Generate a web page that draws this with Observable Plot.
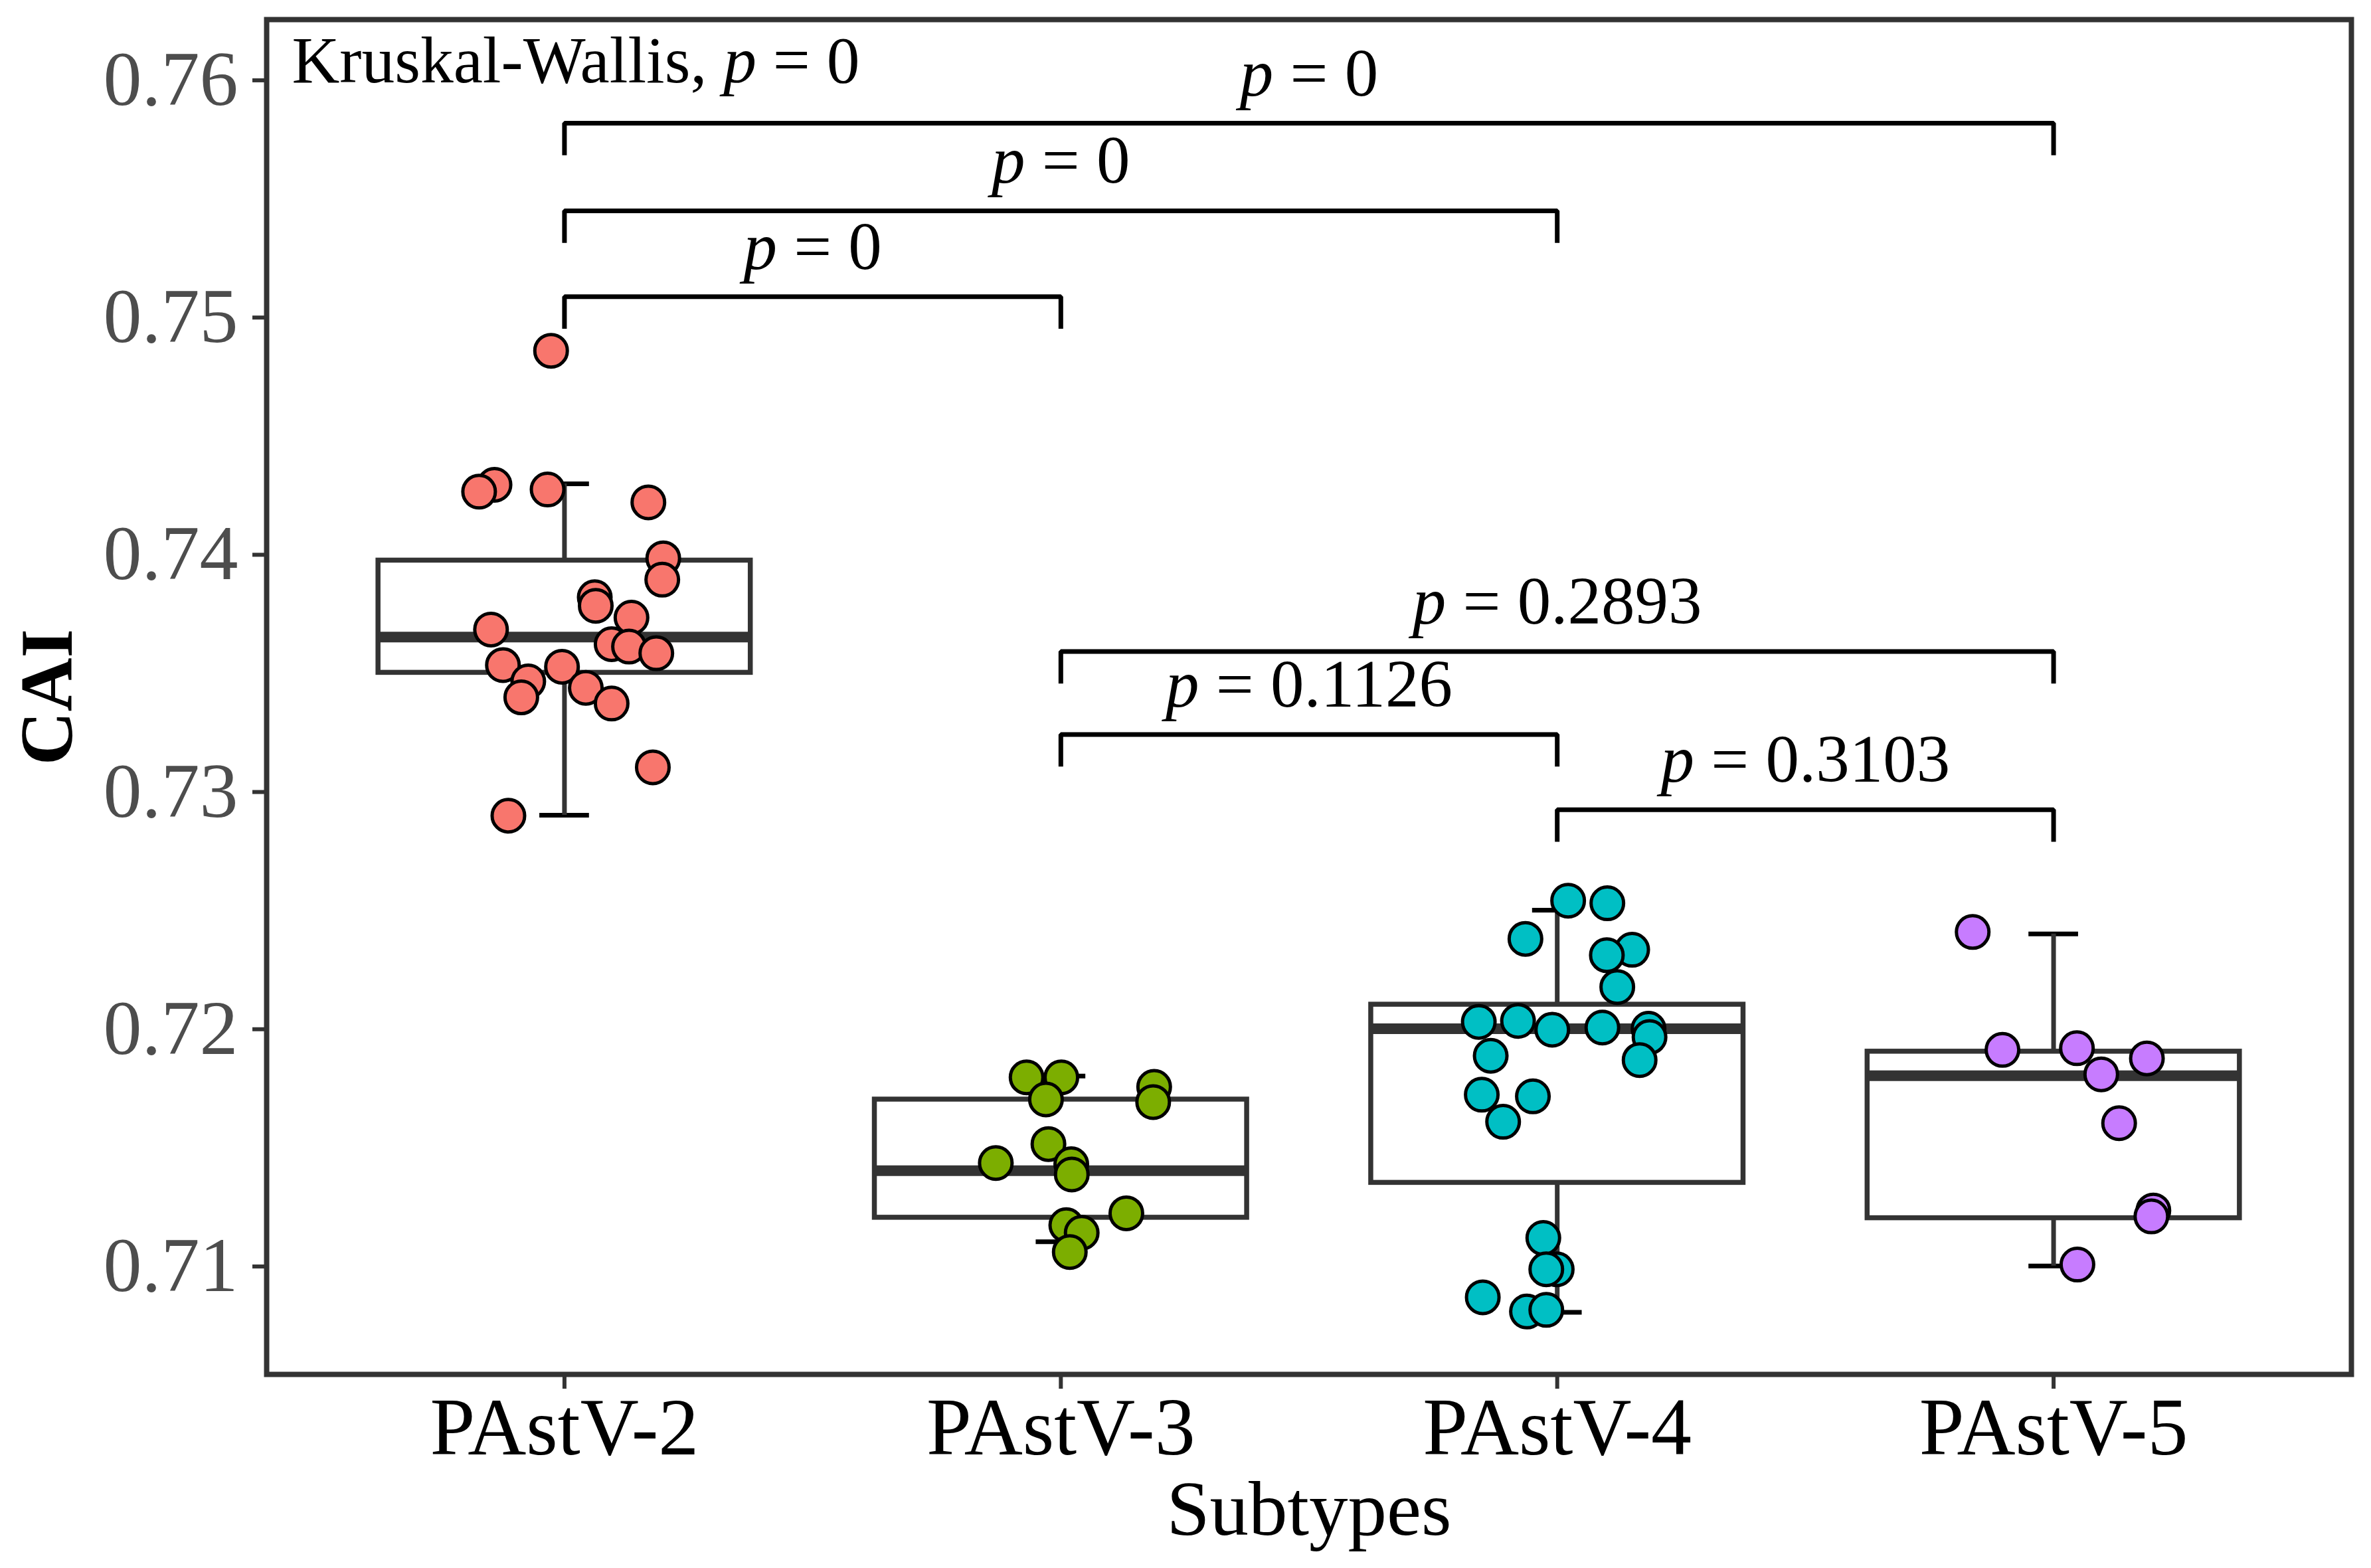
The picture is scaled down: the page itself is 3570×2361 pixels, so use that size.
<!DOCTYPE html>
<html><head><meta charset="utf-8">
<script src="https://cdn.jsdelivr.net/npm/d3@7"></script>
<script src="https://cdn.jsdelivr.net/npm/@observablehq/plot@0.6"></script>
<style>html,body{margin:0;padding:0;background:#fff;} svg{display:block}</style>
</head><body><div id="chart"></div>
<script>
// ---- data ----
const categories = ["PAstV-2", "PAstV-3", "PAstV-4", "PAstV-5"];
const groupColors = ["#F8766D", "#7CAE00", "#00BFC4", "#C77CFF"];

const caiPAstV2 = [0.7486, 0.74295, 0.74266, 0.74275, 0.74221, 0.73985, 0.73895, 0.73821, 0.73785, 0.73735, 0.73685,
  0.73623, 0.73613, 0.73585, 0.73535, 0.73528, 0.73466, 0.73399, 0.73439, 0.73373, 0.73104, 0.72900];
const jitterPAstV2 = [-0.027, -0.141, -0.172, -0.034, 0.169, 0.199, 0.197, 0.061, 0.063, 0.135, -0.148,
  0.095, 0.130, 0.185, -0.124, -0.005, -0.073, -0.087, 0.043, 0.095, 0.178, -0.113];

const caiPAstV3 = [0.71797, 0.71797, 0.71704, 0.71757, 0.71693, 0.71516, 0.71436, 0.71431, 0.71388, 0.71224, 0.71174, 0.71142, 0.71061];
const jitterPAstV3 = [-0.069, 0.001, -0.030, 0.188, 0.186, -0.025, -0.131, 0.021, 0.022, 0.132, 0.011, 0.042, 0.018];

const caiPAstV4 = [0.72542, 0.72531, 0.72381, 0.72335, 0.72312, 0.72178, 0.72031, 0.72035, 0.71998, 0.72007, 0.72002, 0.71967,
  0.71870, 0.71888, 0.71724, 0.71717, 0.71610, 0.71120, 0.70988, 0.70988, 0.70870, 0.70810, 0.70817];
const jitterPAstV4 = [0.022, 0.101, -0.064, 0.151, 0.100, 0.121, -0.158, -0.079, -0.010, 0.091, 0.184, 0.186,
  0.166, -0.134, -0.152, -0.049, -0.109, -0.028, -0.001, -0.022, -0.150, -0.061, -0.022];

const caiPAstV5 = [0.72410, 0.71913, 0.71920, 0.71877, 0.71810, 0.71604, 0.71236, 0.71211, 0.71008];
const jitterPAstV5 = [-0.163, -0.103, 0.047, 0.188, 0.096, 0.132, 0.201, 0.197, 0.048];

const boxQ1 = [0.73503, 0.71206, 0.71353, 0.71204];
const boxMedian = [0.73653, 0.71404, 0.72002, 0.71804];
const boxQ3 = [0.73976, 0.71704, 0.72104, 0.71906];
const whiskerLow = [0.72902, 0.71104, 0.70807, 0.71002];
const whiskerHigh = [0.74299, 0.71803, 0.72502, 0.72402];

const pairFrom = [1, 1, 1, 2, 2, 3];
const pairTo = [4, 3, 2, 4, 3, 4];
const pairLevel = [0.75819, 0.75450, 0.75088, 0.73592, 0.73242, 0.72925];
const pairLabel = ["p = 0", "p = 0", "p = 0", "p = 0.2893", "p = 0.1126", "p = 0.3103"];
const kwLabel = "Kruskal-Wallis, p = 0";

const yTicks = [0.71, 0.72, 0.73, 0.74, 0.75, 0.76];
const yDomain = [0.70545, 0.76256];
const xTitle = "Subtypes";
const yTitle = "CAI";

// ---- derived tables ----
const groupValues = [caiPAstV2, caiPAstV3, caiPAstV4, caiPAstV5];
const groupJitter = [jitterPAstV2, jitterPAstV3, jitterPAstV4, jitterPAstV5];
const points = groupValues.flatMap((vals, g) => vals.map((v, k) => ({g, x: g + 1 + groupJitter[g][k], y: v})));
const stats = categories.map((c, i) => ({
  x: i + 1, q1: boxQ1[i], med: boxMedian[i], q3: boxQ3[i], lo: whiskerLow[i], hi: whiskerHigh[i]
}));
const HALF_BOX = 0.375, HALF_CAP = 0.05, TIP = 0.00135;
const brackets = pairFrom.map((f, k) => ({k, from: f, to: pairTo[k], level: pairLevel[k], label: pairLabel[k]}));
const bracketPath = brackets.flatMap(b => [
  {k: b.k, x: b.from, y: b.level - TIP},
  {k: b.k, x: b.from, y: b.level},
  {k: b.k, x: b.to, y: b.level},
  {k: b.k, x: b.to, y: b.level - TIP}
]);

const chart = Plot.plot({
  width: 3570,
  height: 2361,
  marginLeft: 401,
  marginRight: 30,
  marginTop: 29,
  marginBottom: 292,
  style: {fontFamily: "'Liberation Serif', 'Times New Roman', serif", background: "#fff", color: "#000"},
  x: {domain: [0.4, 4.6]},
  y: {domain: yDomain},
  marks: [
    Plot.ruleY(stats, {y: "lo", x1: d => d.x - HALF_CAP, x2: d => d.x + HALF_CAP, stroke: "#000", strokeWidth: 7}),
    Plot.ruleY(stats, {y: "hi", x1: d => d.x - HALF_CAP, x2: d => d.x + HALF_CAP, stroke: "#000", strokeWidth: 7}),
    Plot.ruleX(stats, {x: "x", y1: "q3", y2: "hi", stroke: "#333", strokeWidth: 7}),
    Plot.ruleX(stats, {x: "x", y1: "lo", y2: "q1", stroke: "#333", strokeWidth: 7}),
    Plot.rect(stats, {x1: d => d.x - HALF_BOX, x2: d => d.x + HALF_BOX, y1: "q1", y2: "q3", fill: "#fff", stroke: "#333", strokeWidth: 7.5}),
    Plot.ruleY(stats, {y: "med", x1: d => d.x - HALF_BOX, x2: d => d.x + HALF_BOX, stroke: "#333", strokeWidth: 16}),
    Plot.dot(points, {x: "x", y: "y", r: 24.5, fill: d => groupColors[d.g], stroke: "#000", strokeWidth: 5}),
    Plot.line(bracketPath, {x: "x", y: "y", z: "k", stroke: "#000", strokeWidth: 7, strokeLinejoin: "miter", strokeLinecap: "butt"}),
    Plot.text(brackets, {x: d => (d.from + d.to) / 2, y: "level", text: "label", dy: -42, lineAnchor: "bottom", fontSize: 101, fill: "#000"}),
    Plot.text([kwLabel], {frameAnchor: "top-left", text: d => d, dx: 38, dy: 94, lineAnchor: "bottom", textAnchor: "start", fontSize: 99.5, fill: "#000"}),
    Plot.axisY({ticks: yTicks, tickFormat: d3.format(".2f"), tickSize: 21, tickPadding: 22, fontSize: 116, fill: "#4D4D4D", stroke: "#333", strokeWidth: 6, label: null}),
    Plot.axisX({ticks: [1, 2, 3, 4], tickFormat: d => categories[d - 1], tickSize: 22, tickPadding: 12, fontSize: 122, fill: "#000", stroke: "#333", strokeWidth: 6, label: null}),
    Plot.text([yTitle], {frameAnchor: "left", text: d => d, dx: -329, rotate: -90, fontSize: 112, fontWeight: "bold", lineAnchor: "middle", textAnchor: "middle", fill: "#000"}),
    Plot.text([xTitle], {frameAnchor: "bottom", text: d => d, dy: 241, lineAnchor: "bottom", fontSize: 117, fill: "#000"}),
    Plot.frame({stroke: "#333", strokeWidth: 8})
  ]
});

// italic "p" in the p-value labels
d3.select(chart).selectAll("text").filter(function () {
  return /(^|, )p = /.test(this.textContent);
}).each(function () {
  const t = this.textContent;
  const m = t.match(/^(.*?)p( = .*)$/);
  if (!m) return;
  this.textContent = "";
  const s = d3.select(this);
  if (m[1]) s.append("tspan").text(m[1]);
  s.append("tspan").attr("font-style", "italic").text("p");
  s.append("tspan").text(m[2]);
});

document.getElementById("chart").appendChild(chart);
</script>
</body></html>
